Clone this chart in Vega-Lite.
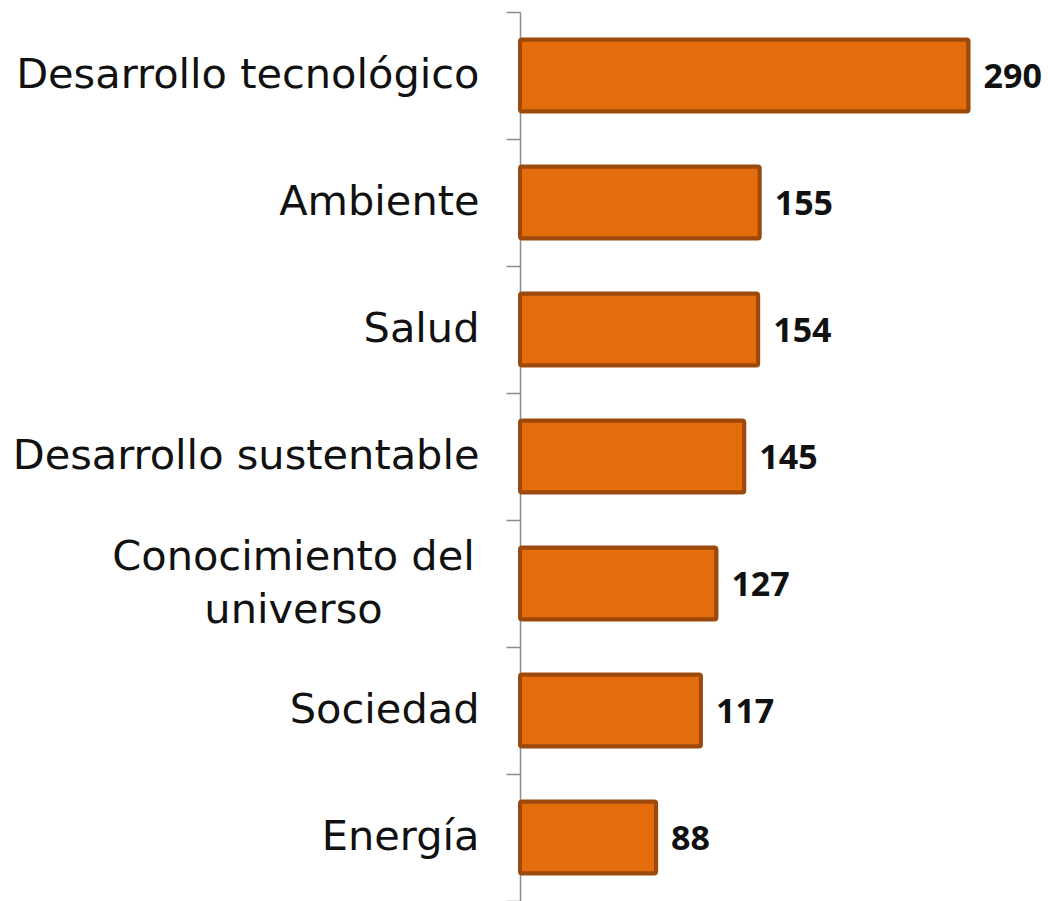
{
  "$schema": "https://vega.github.io/schema/vega-lite/v6.json",
  "width": 464,
  "height": 889,
  "autosize": {"type": "none"},
  "padding": {"left": 520, "top": 12, "right": 64, "bottom": 0},
  "background": "white",
  "config": {"view": {"stroke": null}},
  "data": {
    "values": [
      {"area": "Desarrollo tecnológico", "n": 290},
      {"area": "Ambiente", "n": 155},
      {"area": "Salud", "n": 154},
      {"area": "Desarrollo sustentable", "n": 145},
      {"area": "Conocimiento del universo", "n": 127},
      {"area": "Sociedad", "n": 117},
      {"area": "Energía", "n": 88}
    ]
  },
  "encoding": {
    "y": {
      "field": "area",
      "type": "nominal",
      "sort": null,
      "scale": {"paddingInner": 0, "paddingOuter": 0},
      "axis": {
        "title": null,
        "domainColor": "#8c8c8c",
        "domainWidth": 1.5,
        "tickColor": "#8c8c8c",
        "tickWidth": 1.5,
        "tickSize": 14,
        "tickBand": "extent",
        "labelFont": "DejaVu Sans",
        "labelFontSize": 41.5,
        "labelColor": "#111111",
        "labelPadding": {"condition": {"test": "datum.value == 'Conocimiento del universo'", "value": 213}, "value": 27},
        "labelAlign": {"condition": {"test": "datum.value == 'Conocimiento del universo'", "value": "center"}, "value": "right"},
        "labelOffset": {"condition": {"test": "datum.value == 'Conocimiento del universo'", "value": -26}, "value": 0},
        "labelExpr": "datum.value == 'Conocimiento del universo' ? ['Conocimiento del', 'universo'] : datum.value",
        "labelLineHeight": 53,
        "labelLimit": 600
      }
    },
    "x": {
      "field": "n",
      "type": "quantitative",
      "scale": {"domain": [0, 300], "nice": false},
      "axis": null
    }
  },
  "layer": [
    {
      "mark": {"type": "bar", "height": {"band": 0.567}, "fill": "#E46C0A", "stroke": "#9C4A0C", "strokeWidth": 4, "cornerRadius": 2}
    },
    {
      "mark": {"type": "text", "align": "left", "baseline": "middle", "dx": 15, "dy": 2, "font": "Open Sans", "fontSize": 34, "fontWeight": "bold", "fill": "#111111"},
      "encoding": {"text": {"field": "n", "type": "quantitative"}}
    }
  ]
}
